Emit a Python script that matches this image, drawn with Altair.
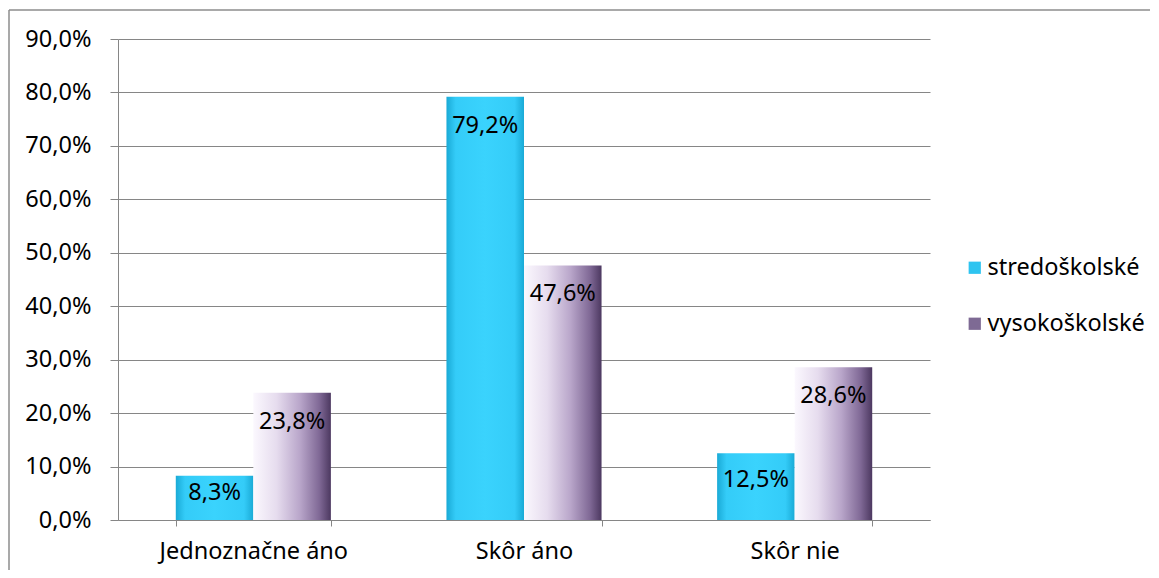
import altair as alt
import pandas as pd

categories = ["Jednoznačne áno", "Skôr áno", "Skôr nie"]
series = ["stredoškolské", "vysokoškolské"]
stredo = [8.3, 79.2, 12.5]
vysoko = [23.8, 47.6, 28.6]
y_ticks = [0, 10, 20, 30, 40, 50, 60, 70, 80, 90]

rows = []
for c, a, b in zip(categories, stredo, vysoko):
    rows.append({"cat": c, "series": series[0], "value": a})
    rows.append({"cat": c, "series": series[1], "value": b})
df = pd.DataFrame(rows)

FONT = "Noto Sans"
FS = 23.5
GRAY = "#868686"

x = alt.X(
    "cat:N", sort=categories, title=None,
    scale=alt.Scale(paddingInner=0.427, paddingOuter=0.2135),
    axis=alt.Axis(labelAngle=0, labelFontSize=FS, labelFont=FONT, labelColor="black",
                  domainColor=GRAY, tickColor=GRAY, tickSize=6, tickBand="extent",
                  labelPadding=13, labelLimit=500, grid=False),
)
xoff = alt.XOffset("series:N", sort=series, scale=alt.Scale(paddingInner=0, paddingOuter=0))
y = alt.Y(
    "value:Q", title=None,
    scale=alt.Scale(domain=[0, 90], nice=False, zero=True),
    axis=alt.Axis(values=y_ticks,
                  labelExpr="replace(format(datum.value, '.1f'), '.', ',') + '%'",
                  labelFontSize=FS, labelFont=FONT, labelColor="black", labelPadding=19,
                  tickSize=8, tickColor=GRAY, domainColor=GRAY, gridColor=GRAY,
                  grid=True),
)

blue_grad = alt.Gradient(
    gradient="linear", x1=0, x2=1, y1=0, y2=0,
    stops=[alt.GradientStop(color="#1AAAD6", offset=0),
           alt.GradientStop(color="#34CCF8", offset=0.12),
           alt.GradientStop(color="#3AD3FD", offset=0.5),
           alt.GradientStop(color="#34CCF8", offset=0.88),
           alt.GradientStop(color="#1AAAD6", offset=1)],
)
purple_grad = alt.Gradient(
    gradient="linear", x1=0, x2=1, y1=0, y2=0,
    stops=[alt.GradientStop(color="#FBF8FE", offset=0),
           alt.GradientStop(color="#E6DCEE", offset=0.3),
           alt.GradientStop(color="#B9A6CA", offset=0.6),
           alt.GradientStop(color="#806996", offset=0.85),
           alt.GradientStop(color="#4C3860", offset=1)],
)

base = alt.Chart(df).encode(x=x, xOffset=xoff, y=y)

bars_s = base.transform_filter(alt.datum.series == series[0]).mark_bar(color=blue_grad)
bars_v = base.transform_filter(alt.datum.series == series[1]).mark_bar(color=purple_grad)

legend_layer = base.mark_square(size=0).encode(
    color=alt.Color(
        "series:N", sort=series,
        scale=alt.Scale(domain=series, range=["#2EC4F0", "#7E6A94"]),
        legend=alt.Legend(title=None, orient="none", legendX=845, legendY=217,
                          symbolType="square", symbolSize=150, symbolOpacity=1,
                          symbolStrokeWidth=0, labelFont=FONT, labelFontSize=FS,
                          labelColor="black", labelOffset=1, rowPadding=31,
                          labelLimit=300),
    )
)

labels = base.transform_calculate(
    ly="datum.value > 15 ? datum.value - 5.4 : datum.value * 0.6",
    lab="replace(format(datum.value, '.1f'), '.', ',') + '%'",
).mark_text(font=FONT, fontSize=FS, baseline="middle", color="black").encode(
    y=alt.Y("ly:Q"), text="lab:N"
)

frame = pd.DataFrame({"b": [0]})
border_top = alt.Chart(frame).mark_rule(stroke="#8C8C8C", strokeWidth=1.5, clip=False).encode(
    x=alt.value(-109), x2=alt.value(1100), y=alt.value(-29)
)
border_left = alt.Chart(frame).mark_rule(stroke="#8C8C8C", strokeWidth=1.5, clip=False).encode(
    x=alt.value(-109), y=alt.value(-29), y2=alt.value(600)
)

chart = alt.layer(border_top, border_left, bars_s, bars_v, legend_layer, labels).properties(
    width=812, height=481,
    autosize=alt.AutoSizeParams(type="none"),
    padding={"left": 110, "top": 31, "right": 220, "bottom": 50},
).configure_view(stroke="transparent")

chart.save("out.html", embed_options={"renderer": "svg", "actions": False})
